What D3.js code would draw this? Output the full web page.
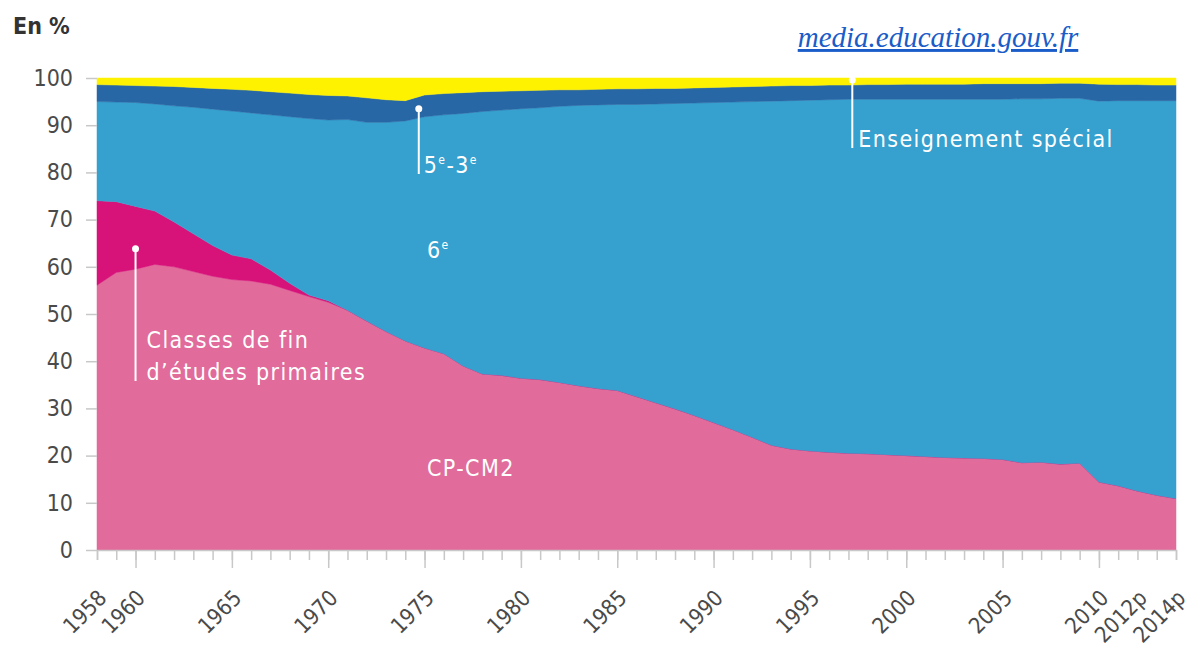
<!DOCTYPE html>
<html>
<head>
<meta charset="utf-8">
<script src="https://cdn.jsdelivr.net/npm/d3@7"></script>
<style>
  html, body { margin: 0; padding: 0; background: #fff; }
  svg { display: block; }
  .cond { font-family: 'DejaVu Sans Condensed', 'DejaVu Sans', sans-serif; font-stretch: condensed; }
</style>
</head>
<body>
<div id="chart"></div>
<script>
// Share of pupils (%) by year
const years = d3.range(1958, 2015);

const cpCm2 = [
  56.1, 58.8, 59.5, 60.5, 60.0, 59.0, 58.0, 57.3, 57.0, 56.3,
  55.0, 53.7, 52.5, 50.8, 48.5, 46.3, 44.3, 42.8, 41.6, 39.0,
  37.3, 37.0, 36.4, 36.1, 35.5, 34.8, 34.2, 33.8, 32.5, 31.2,
  29.9, 28.5, 27.0, 25.5, 23.9, 22.2, 21.4, 21.0, 20.7, 20.5,
  20.4, 20.2, 20.0, 19.8, 19.6, 19.5, 19.4, 19.2, 18.5, 18.6,
  18.2, 18.4, 14.4, 13.6, 12.5, 11.6, 10.9
];

const finEtudes = [
  17.9, 15.0, 13.3, 11.3, 9.5, 8.0, 6.5, 5.2, 4.7, 3.0,
  1.5, 0.3, 0.3, 0, 0, 0, 0, 0, 0, 0,
  0, 0, 0, 0, 0, 0, 0, 0, 0, 0,
  0, 0, 0, 0, 0, 0, 0, 0, 0, 0,
  0, 0, 0, 0, 0, 0, 0, 0, 0, 0,
  0, 0, 0, 0, 0, 0, 0
];

const sixieme = [
  21.0, 21.1, 22.0, 22.7, 24.6, 26.8, 28.9, 30.5, 30.9, 32.9,
  35.3, 37.4, 38.3, 40.4, 42.1, 44.3, 46.6, 49.0, 50.6, 53.5,
  55.6, 56.2, 57.1, 57.6, 58.5, 59.4, 60.1, 60.6, 61.9, 63.3,
  64.7, 66.2, 67.8, 69.4, 71.1, 72.9, 73.8, 74.3, 74.7, 75.0,
  75.1, 75.3, 75.5, 75.7, 75.9, 76.0, 76.1, 76.3, 77.1, 77.0,
  77.5, 77.3, 80.7, 81.6, 82.7, 83.6, 84.3
];

const cinqTroisieme = [
  3.6, 3.6, 3.6, 3.8, 4.1, 4.2, 4.4, 4.6, 4.8, 4.9,
  5.0, 5.1, 5.2, 5.0, 5.2, 4.8, 4.3, 4.6, 4.5, 4.4,
  4.2, 4.0, 3.8, 3.7, 3.5, 3.3, 3.3, 3.3, 3.3, 3.3,
  3.2, 3.2, 3.2, 3.2, 3.2, 3.2, 3.2, 3.1, 3.1, 3.0,
  3.1, 3.1, 3.2, 3.2, 3.2, 3.2, 3.3, 3.3, 3.2, 3.2,
  3.2, 3.2, 3.6, 3.4, 3.4, 3.3, 3.3
];

const special = [
  1.4, 1.5, 1.6, 1.7, 1.8, 2.0, 2.2, 2.4, 2.6, 2.9,
  3.2, 3.5, 3.7, 3.8, 4.2, 4.6, 4.8, 3.6, 3.3, 3.1,
  2.9, 2.8, 2.7, 2.6, 2.5, 2.5, 2.4, 2.3, 2.3, 2.2,
  2.2, 2.1, 2.0, 1.9, 1.8, 1.7, 1.6, 1.6, 1.5, 1.5,
  1.4, 1.4, 1.3, 1.3, 1.3, 1.3, 1.2, 1.2, 1.2, 1.2,
  1.1, 1.1, 1.3, 1.4, 1.4, 1.5, 1.5
];

const yTicks = d3.range(0, 101, 10);
const majorYears = d3.range(1960, 2011, 5);
const labelYears = [1958].concat(majorYears, [2012, 2014]);
const labelText = { 2012: '2012p', 2014: '2014p' };

const keys = ['cpCm2', 'finEtudes', 'sixieme', 'cinqTroisieme', 'special'];
const colors = {
  cpCm2: '#e16b9b',
  finEtudes: '#d7137a',
  sixieme: '#36a0ce',
  cinqTroisieme: '#2867a5',
  special: '#fff200'
};

const width = 1192, height = 648;
const margin = { top: 78, right: 16, bottom: 98, left: 97 };
const fontSize = 23;

const table = years.map((yr, i) => ({
  year: yr,
  cpCm2: cpCm2[i],
  finEtudes: finEtudes[i],
  sixieme: sixieme[i],
  cinqTroisieme: cinqTroisieme[i],
  special: special[i]
}));

const svg = d3.select('#chart').append('svg')
  .attr('width', width)
  .attr('height', height);

const x = d3.scaleLinear()
  .domain([1958, 2014])
  .range([margin.left, width - margin.right]);

const y = d3.scaleLinear()
  .domain([0, 100])
  .range([height - margin.bottom, margin.top]);

const series = d3.stack().keys(keys)(table);

const area = d3.area()
  .x(d => x(d.data.year))
  .y0(d => y(d[0]))
  .y1(d => y(d[1]));

svg.append('g')
  .selectAll('path')
  .data(series)
  .enter()
  .append('path')
  .attr('d', area)
  .attr('fill', d => colors[d.key])
  .attr('stroke', d => colors[d.key])
  .attr('stroke-width', 0.5);

// y axis: short grey ticks, no domain line
const yAxis = svg.append('g')
  .attr('class', 'cond')
  .attr('transform', `translate(${margin.left},0)`)
  .call(d3.axisLeft(y).tickValues(yTicks).tickSize(11).tickPadding(13));
yAxis.select('.domain').remove();
yAxis.selectAll('line').attr('stroke', '#c8c8c8').attr('stroke-width', 1.5);
yAxis.selectAll('text')
  .attr('fill', '#4a4a4a')
  .attr('font-size', fontSize)
  .attr('font-family', null);

// x axis: minor tick every year, longer tick every 5 years
const xBase = height - margin.bottom;
const xMinor = svg.append('g')
  .attr('transform', `translate(0,${xBase})`)
  .call(d3.axisBottom(x).tickValues(years).tickSize(10).tickFormat(''));
xMinor.select('.domain').attr('stroke', '#c8c8c8').attr('stroke-width', 1.5);
xMinor.selectAll('line').attr('stroke', '#c8c8c8').attr('stroke-width', 1.5);

const xMajor = svg.append('g')
  .attr('transform', `translate(0,${xBase})`)
  .call(d3.axisBottom(x).tickValues(majorYears).tickSize(18).tickFormat(''));
xMajor.select('.domain').remove();
xMajor.selectAll('line').attr('stroke', '#c8c8c8').attr('stroke-width', 1.5);

const xLabels = svg.append('g')
  .attr('class', 'cond')
  .attr('transform', `translate(0,${xBase})`)
  .call(d3.axisBottom(x).tickValues(labelYears).tickSize(0)
    .tickFormat(d => labelText[d] || String(d)));
xLabels.select('.domain').remove();
xLabels.selectAll('text')
  .attr('font-family', null)
  .attr('font-size', 22)
  .attr('fill', '#4a4a4a')
  .attr('text-anchor', 'end')
  .attr('x', 0)
  .attr('y', 0)
  .attr('dy', '0.35em')
  .attr('transform', 'translate(5,44) rotate(-45)');

// "En %" unit label
svg.append('text')
  .attr('class', 'cond')
  .attr('x', 13)
  .attr('y', 34)
  .attr('font-size', fontSize)
  .attr('font-weight', 'bold')
  .attr('fill', '#333')
  .text('En %');

// source link text
svg.append('text')
  .attr('x', 938)
  .attr('y', 47)
  .attr('text-anchor', 'middle')
  .attr('font-family', "'Liberation Serif', serif")
  .attr('font-style', 'italic')
  .attr('font-size', 29)
  .attr('fill', '#1a5cc8')
  .attr('text-decoration', 'underline')
  .text('media.education.gouv.fr');

// in-chart annotations (white lines, dots, labels)
const notes = svg.append('g')
  .attr('class', 'cond')
  .attr('fill', '#fff')
  .attr('font-size', fontSize)
  .attr('letter-spacing', 1.4);

function pointer(xPos, yTop, yBottom) {
  notes.append('line')
    .attr('x1', xPos).attr('x2', xPos)
    .attr('y1', yTop).attr('y2', yBottom)
    .attr('stroke', '#fff')
    .attr('stroke-width', 2);
  notes.append('circle')
    .attr('cx', xPos).attr('cy', yTop).attr('r', 3.5)
    .attr('fill', '#fff');
}

pointer(x(1960), y(63.8), 381);
notes.append('text').attr('x', x(1960) + 11).attr('y', 348).text('Classes de fin');
notes.append('text').attr('x', x(1960) + 11).attr('y', 380).text('d\u2019études primaires');

pointer(x(1974.7), y(93.5), 174);
const t53 = notes.append('text').attr('x', x(1974.7) + 5).attr('y', 173);
t53.append('tspan').text('5');
t53.append('tspan').attr('font-size', 12).attr('dy', -9).text('e');
t53.append('tspan').attr('dy', 9).text('-3');
t53.append('tspan').attr('font-size', 12).attr('dy', -9).text('e');

const t6 = notes.append('text').attr('x', 427).attr('y', 258);
t6.append('tspan').text('6');
t6.append('tspan').attr('font-size', 12).attr('dy', -9).text('e');

pointer(x(1997.2), y(99.6), 148);
notes.append('text').attr('x', x(1997.2) + 6).attr('y', 147).text('Enseignement spécial');

notes.append('text').attr('x', 427).attr('y', 476).text('CP-CM2');
</script>
</body>
</html>
